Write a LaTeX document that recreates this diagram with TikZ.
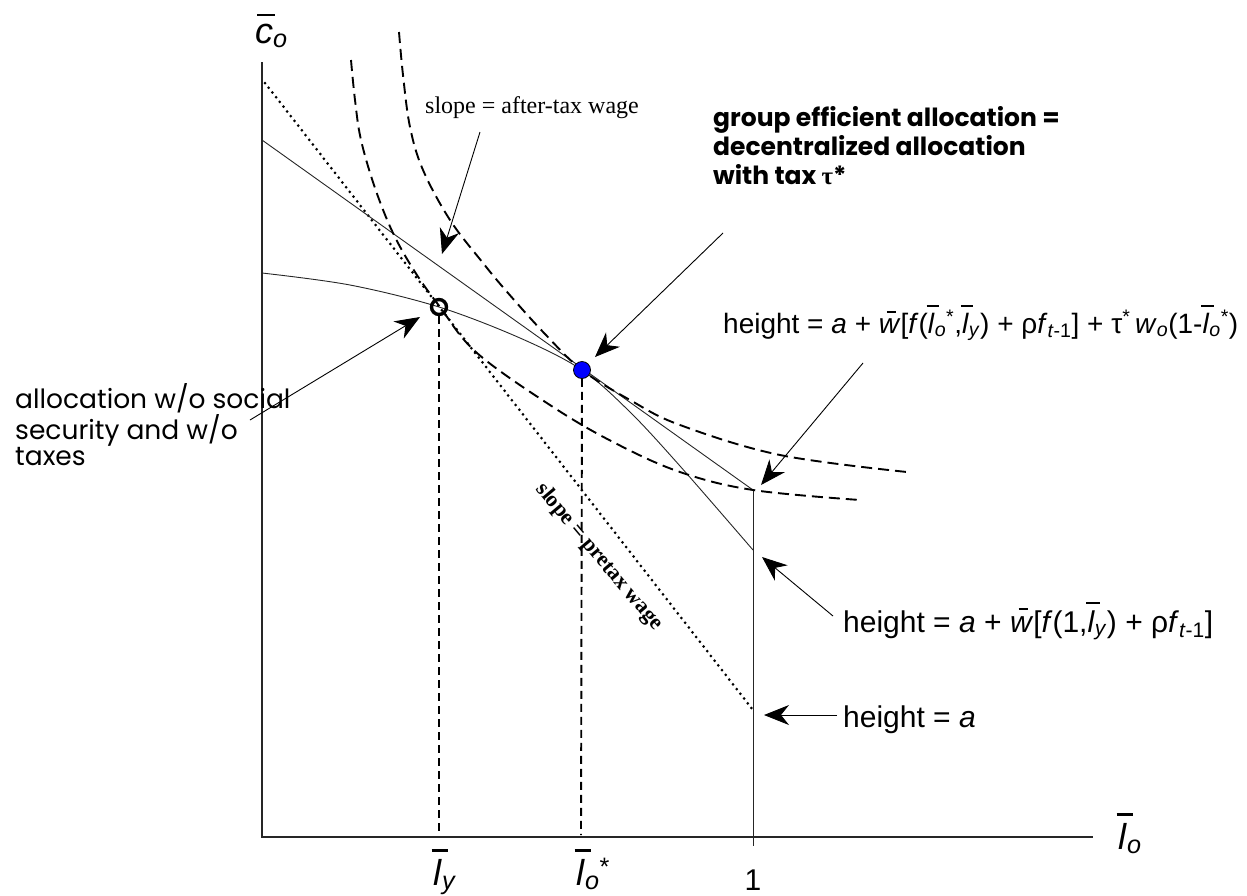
\documentclass[tikz,border=0pt]{standalone}
\usepackage{fontspec}
\setmainfont{Liberation Sans}
\newfontfamily\geo{Poppins}
\newfontfamily\tms{Liberation Serif}
\usetikzlibrary{arrows.meta}
% overbar: optional bar width, content keeps natural width
\newcommand\ob[2][0.45em]{\leavevmode\setbox0\hbox{#2}\vbox{\offinterlineskip\hbox to \wd0{\hss\kern0.12em\vrule height 0.07em depth 0pt width #1\hss}\kern0.2em\box0}}
\tikzset{
  axisline/.style={line width=1.2pt, draw=black!85},
  thinline/.style={line width=0.9pt, draw=black!85},
  icurve/.style={line width=1.9pt, dash pattern=on 11pt off 6pt},
  dropline/.style={line width=1.9pt, dash pattern=on 8pt off 5pt},
  dotline/.style={line width=3pt, line cap=round, dash pattern=on 0pt off 6pt},
  pointer/.style={line width=0.9pt, draw=black, -{Stealth[length=25pt,width=20pt,inset=8pt]}},
  sanslab/.style={inner sep=0pt, font=\fontsize{30}{34}\selectfont},
  longlab/.style={inner sep=0pt, font=\fontsize{28}{34}\selectfont},
  axlab/.style={inner sep=0pt, font=\fontsize{36}{40}\selectfont},
  numlab/.style={inner sep=0pt, font=\fontsize{30}{36}\selectfont},
  geolab/.style={inner sep=0pt, align=left},
  serlab/.style={inner sep=0pt, font=\tms\fontsize{24}{28}\selectfont},
  rotlab/.style={inner sep=0pt, font=\tms\bfseries\fontsize{22}{26}\selectfont},
}
\begin{document}
\begin{tikzpicture}[x=1pt,y=-1pt]
\useasboundingbox (0,0) rectangle (1247,895);
% key points
\coordinate (O) at (262,837);
\coordinate (ytop) at (262,62);
\coordinate (xend) at (1093,837);
\coordinate (A0) at (265,83);
\coordinate (Aend) at (753,710);
\coordinate (T0) at (262,140);
\coordinate (Ttop) at (753,490);
\coordinate (Vbot) at (753,846);
\coordinate (C) at (439,307);
\coordinate (D) at (582,370);
\coordinate (Cb) at (439,834);
\coordinate (Db) at (581,835);
% axes
\draw[axisline] (ytop) -- (O) -- (xend);
% pretax budget line (dotted)
\draw[dotline] (A0) -- (Aend);
% after-tax budget line
\draw[thinline] (T0) -- (Ttop);
\draw[thinline] (Ttop) -- (Vbot);
% production possibility curve
\draw[thinline] plot[smooth,tension=0.55] coordinates {(262,273) (350,285) (439,307) (520,338) (582,370) (630,412) (680,466) (753,550)};
% indifference curves
\draw[icurve] plot[smooth,tension=0.6] coordinates {(399,32) (403,75) (410,127) (423,170) (450,220) (483,263) (508,293) (545,334) (582,370) (630,400) (680,425) (780,455) (907,472)};
\draw[icurve] plot[smooth,tension=0.6] coordinates {(351,60) (355,100) (361,140) (375,188) (393,233) (415,272) (440,307) (477,353) (553,407) (615,443) (680,472) (753,490) (860,500)};
% points
\node[draw, circle, line width=3.4pt, minimum size=15pt, inner sep=0pt] (Cn) at (C) {};
\node[draw=black, fill=blue, circle, line width=0.8pt, minimum size=17pt, inner sep=0pt] (Dn) at (D) {};
\draw[dropline] (Cn.south) -- (Cb);
\draw[dropline] (Dn.south) -- (Db);
% axis labels
\node[axlab, anchor=base west] (ylab) at (255,43) {\ob[0.5em]{\textit{c}}\textsubscript{\textit{o}}};
\node[axlab, anchor=base west] (xlab) at (1118,849) {\ob{\textit{l}}\textsubscript{\textit{o}}};
\node[axlab, anchor=base west] (lylab) at (433,885) {\ob{\textit{l}}\textsubscript{\textit{y}}};
\node[axlab, anchor=base west] (lolab) at (576,885) {\ob{\textit{l}}\textsubscript{\textit{o}}\textsuperscript{*}};
\node[numlab, anchor=base] (onelab) at (753,890) {1};
% text labels
\node[serlab, anchor=base west] (slopeat) at (425,113) {slope = after-tax wage};
\node[rotlab, rotate=-50] (slopept) at (599,557) {slope = pretax wage};
\node[geolab, anchor=base west, font=\geo\bfseries\fontsize{25}{29}\selectfont] (group) at (713,184) {group efficient allocation =\\decentralized allocation\\with tax {\tms τ}*};
\node[geolab, anchor=base west, font=\geo\fontsize{26.5}{26}\selectfont] (noss) at (15,465) {allocation w/o social\\security and w/o\\taxes};
\node[longlab, anchor=base west] (hlong) at (723,333) {height = \textit{a} + \ob[0.32em]{\textit{w}}[\textit{f}(\ob{\textit{l}}\textsubscript{\textit{o}}\textsuperscript{*},\ob{\textit{l}}\textsubscript{\textit{y}}) + ρ\textit{f}\textsubscript{\textit{t}-1}] + τ\textsuperscript{*}\,\textit{w}\textsubscript{\textit{o}}(1-\ob{\textit{l}}\textsubscript{\textit{o}}\textsuperscript{*})};
\node[sanslab, anchor=base west] (hone) at (843,632) {height = \textit{a} + \ob[0.32em]{\textit{w}}[\textit{f}(1,\ob{\textit{l}}\textsubscript{\textit{y}}) + ρ\textit{f}\textsubscript{\textit{t}-1}]};
\node[sanslab, anchor=base west] (ha) at (843,727) {height = \textit{a}};
% pointer arrows
\coordinate (s1) at (480,132); \coordinate (s1t) at (442,254);
\coordinate (g1) at (723,233); \coordinate (g1t) at (595,357);
\coordinate (n1) at (250,420); \coordinate (n1t) at (420,317);
\coordinate (h1) at (863,363); \coordinate (h1t) at (761,485);
\coordinate (h2) at (833,616); \coordinate (h2t) at (762,557);
\coordinate (h3) at (837,715); \coordinate (h3t) at (764,715);
\draw[pointer] (s1) -- (s1t);
\draw[pointer] (g1) -- (g1t);
\draw[pointer] (n1) -- (n1t);
\draw[pointer] (h1) -- (h1t);
\draw[pointer] (h2) -- (h2t);
\draw[pointer] (h3) -- (h3t);
\end{tikzpicture}
\end{document}
